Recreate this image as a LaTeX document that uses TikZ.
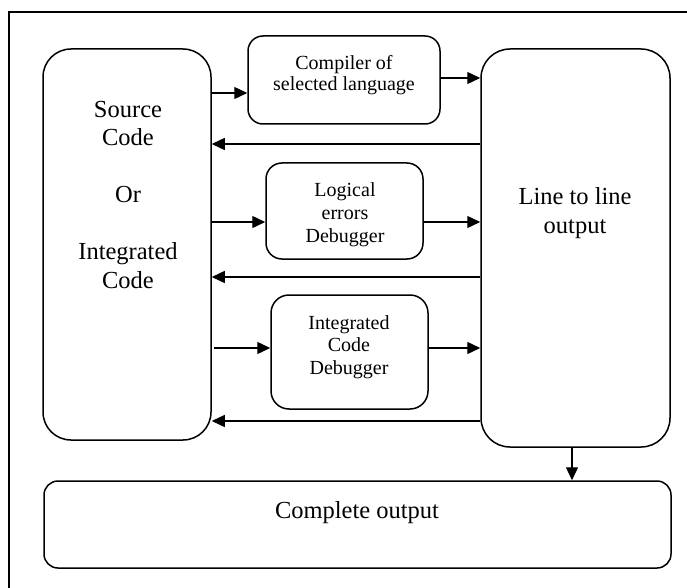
\documentclass[tikz,border=0pt]{standalone}
\usepackage{fontspec}
\setmainfont{Liberation Serif}
\usetikzlibrary{arrows.meta}
\begin{document}
\begin{tikzpicture}[x=1pt,y=-1pt,
  box/.style={draw, line width=1.5pt, rounded corners=#1, inner sep=0pt},
  bigtxt/.style={font=\fontsize{24.5}{28.5}\selectfont, align=center, inner sep=0pt, anchor=base},
  smalltxt/.style={font=\fontsize{20}{22.5}\selectfont, align=center, inner sep=0pt, anchor=base},
  arr/.style={line width=1.4pt, -{Triangle[length=13pt,width=12pt]}}
]
\useasboundingbox (0,0) rectangle (687,588);
\clip (0,0) rectangle (687,588);

% frame around the whole figure
\draw[line width=1.6pt] (9,12) rectangle (700,600);

% boxes
\node[box=28pt, minimum width=168pt, minimum height=391pt] (src) at (127,244.5) {};
\node[box=15pt, minimum width=192pt, minimum height=88pt] (comp) at (344,80) {};
\node[box=16pt, minimum width=157pt, minimum height=96pt] (log) at (344.5,211) {};
\node[box=18pt, minimum width=157pt, minimum height=114pt] (int) at (349.5,352) {};
\node[box=29pt, minimum width=189pt, minimum height=398pt] (rt) at (575.5,248) {};
\node[box=14pt, minimum width=627pt, minimum height=87pt] (cmp) at (357.5,524.5) {};

% labels (anchored at the baseline of their last line)
\node[bigtxt] (srcT) at (128,288) {Source\\Code\\[28.5pt]Or\\[28.5pt]Integrated\\Code};
\node[bigtxt] (rtT) at (575,233) {Line to line\\output};
\node[bigtxt] (cmpT) at (357,518) {Complete output};
\node[smalltxt, font=\fontsize{20}{21}\selectfont] (compT) at (344,91) {Compiler of\\selected language};
\node[smalltxt, font=\fontsize{20}{23}\selectfont] (logT) at (345,242) {Logical\\errors\\Debugger};
\node[smalltxt] (intT) at (349,374) {Integrated\\Code\\Debugger};

% connectors
\draw[arr] (src.east |- 0,93) -- (comp.west |- 0,93);
\draw[arr] (comp.east |- 0,78) -- (rt.west |- 0,78);
\draw[arr] (rt.west |- 0,144) -- (src.east |- 0,144);
\draw[arr] (src.east |- 0,222) -- (log.west |- 0,222);
\draw[arr] (log.east |- 0,222) -- (rt.west |- 0,222);
\draw[arr] (rt.west |- 0,277) -- (src.east |- 0,277);
\draw[arr] ([xshift=2pt]src.east |- 0,348) -- (int.west |- 0,348);
\draw[arr] (int.east |- 0,348) -- (rt.west |- 0,348);
\draw[arr] (rt.west |- 0,421) -- (src.east |- 0,421);
\draw[arr] (rt.south -| 572,0) -- (cmp.north -| 572,0);
\end{tikzpicture}
\end{document}
